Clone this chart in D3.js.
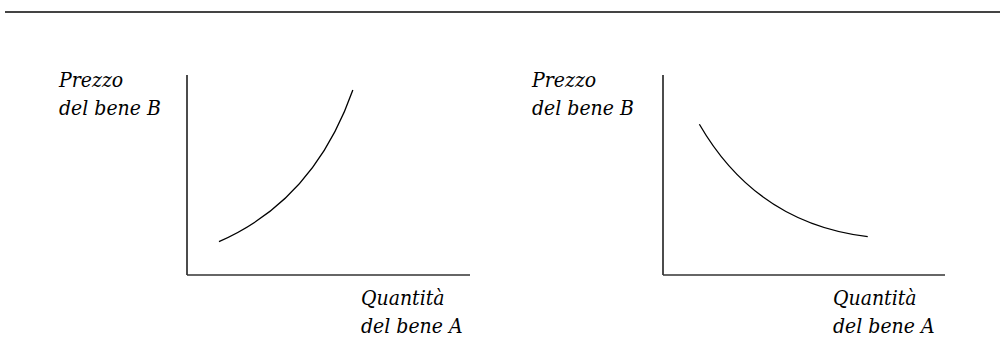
<!DOCTYPE html>
<html>
<head>
<script src="https://cdn.jsdelivr.net/npm/d3@7/dist/d3.min.js"></script>
<style>
    body{ margin:0; background:white; }
    .lab{ font-family:'DejaVu Serif Condensed','DejaVu Serif',serif; font-stretch:condensed; font-style:italic; }
</style>
</head>
<body>
<div id="chart"></div>
<script>
    // each curve: start point, control point, end point (data units 0-10)
    var leftX = [1.13, 4.49, 5.86]
    var leftY = [1.67, 3.74, 9.25]
    var rightX = [1.29, 3.32, 7.26]
    var rightY = [7.54, 2.58, 1.92]
    var yLabel = ["Prezzo", "del bene B"]
    var xLabel = ["Quantità", "del bene A"]

    var svg = d3.select("#chart").append("svg")
        .attr("width", 1000).attr("height", 356)

    // rule across the top
    svg.append("line").attr("x1", 5).attr("x2", 1000).attr("y1", 12).attr("y2", 12)
        .attr("stroke", "#444").attr("stroke-width", 2)

    var panels = [
        {x0: 187, x1: 470, lx: 59, qx: 361, xs: leftX, ys: leftY},
        {x0: 663, x1: 945, lx: 532, qx: 833, xs: rightX, ys: rightY}
    ]

    panels.forEach(function(p){
        var x = d3.scaleLinear().domain([0, 10]).range([p.x0, p.x1])
        var y = d3.scaleLinear().domain([0, 10]).range([275, 75])
        var g = svg.append("g")

        g.append("line").attr("x1", x(0)).attr("x2", x(0)).attr("y1", y(10)).attr("y2", y(0))
            .attr("stroke", "#111").attr("stroke-width", 1.5)
        g.append("line").attr("x1", x(0)).attr("x2", x(10)).attr("y1", y(0)).attr("y2", y(0))
            .attr("stroke", "#333").attr("stroke-width", 1.5)

        var path = d3.path()
        path.moveTo(x(p.xs[0]), y(p.ys[0]))
        path.quadraticCurveTo(x(p.xs[1]), y(p.ys[1]), x(p.xs[2]), y(p.ys[2]))
        g.append("path").attr("d", path.toString()).attr("fill", "none")
            .attr("stroke", "black").attr("stroke-width", 1.3)

        yLabel.forEach(function(t, i){
            g.append("text").attr("class", "lab").text(t).attr("x", p.lx).attr("y", 87 + i*28)
                .attr("font-size", 21).attr("fill", "black")
        })
        xLabel.forEach(function(t, i){
            g.append("text").attr("class", "lab").text(t).attr("x", p.qx).attr("y", 305 + i*28)
                .attr("font-size", 21).attr("fill", "black")
        })
    })
</script>
</body>
</html>
